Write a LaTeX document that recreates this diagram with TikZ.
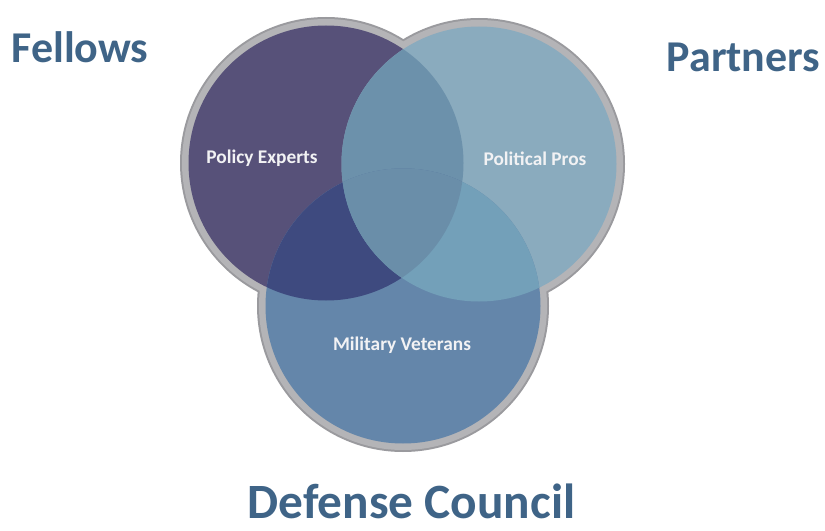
\documentclass[tikz,border=0pt]{standalone}
\usepackage{fontspec}
\setmainfont{Carlito}
\definecolor{ringdark}{HTML}{9A9A9E}
\definecolor{ringlight}{HTML}{B4B4B7}
\definecolor{cL}{HTML}{575179}
\definecolor{cR}{HTML}{8AABBE}
\definecolor{cB}{HTML}{6486AA}
\definecolor{cLR}{HTML}{6C91AB}
\definecolor{cLB}{HTML}{3E4A7F}
\definecolor{cRB}{HTML}{73A0B9}
\definecolor{cLRB}{HTML}{6A8EA9}
\definecolor{titleblue}{HTML}{3F6487}
\definecolor{inwhite}{HTML}{F2F2F4}
\tikzset{
  titletext/.style={font=\bfseries\fontsize{33}{36}\selectfont, text=titleblue, inner sep=0pt, anchor=base},
  bigtitle/.style={font=\bfseries\fontsize{37}{40}\selectfont, text=titleblue, inner sep=0pt, anchor=base},
  intext/.style={font=\bfseries\fontsize{14.5}{16}\selectfont, text=inwhite, inner sep=0pt}
}
\begin{document}
\begin{tikzpicture}[x=0.75pt,y=-0.75pt]
\useasboundingbox (0,0) rectangle (825,531);
\def\Rad{103.125pt}
\def\Rout{109.5pt}
\def\Rmid{108pt}
\coordinate (L) at (326,163);
\coordinate (R) at (479,164);
\coordinate (B) at (403,306);
% grey ring
\foreach \c in {L,R,B} \fill[ringdark] (\c) circle[radius=\Rout];
\foreach \c in {L,R,B} \fill[ringlight] (\c) circle[radius=\Rmid];
% single regions
\fill[cL] (L) circle[radius=\Rad];
\fill[cR] (R) circle[radius=\Rad];
\fill[cB] (B) circle[radius=\Rad];
% pairwise
\begin{scope}
  \clip (L) circle[radius=\Rad];
  \fill[cLR] (R) circle[radius=\Rad];
\end{scope}
\begin{scope}
  \clip (L) circle[radius=\Rad];
  \fill[cLB] (B) circle[radius=\Rad];
\end{scope}
\begin{scope}
  \clip (R) circle[radius=\Rad];
  \fill[cRB] (B) circle[radius=\Rad];
\end{scope}
\begin{scope}
  \clip (L) circle[radius=\Rad];
  \clip (R) circle[radius=\Rad];
  \fill[cLRB] (B) circle[radius=\Rad];
\end{scope}
% labels
\node[intext] (pe) at (262,158) {Policy Experts};
\node[intext] (pp) at (535,159) {Political Pros};
\node[intext] (mv) at (402,345) {Military Veterans};
\node[titletext] (fel) at (80,63) {Fellows};
\node[titletext] (par) at (743.5,72) {Partners};
\node[bigtitle] (dc) at (411.5,518) {Defense Council};
\end{tikzpicture}
\end{document}
